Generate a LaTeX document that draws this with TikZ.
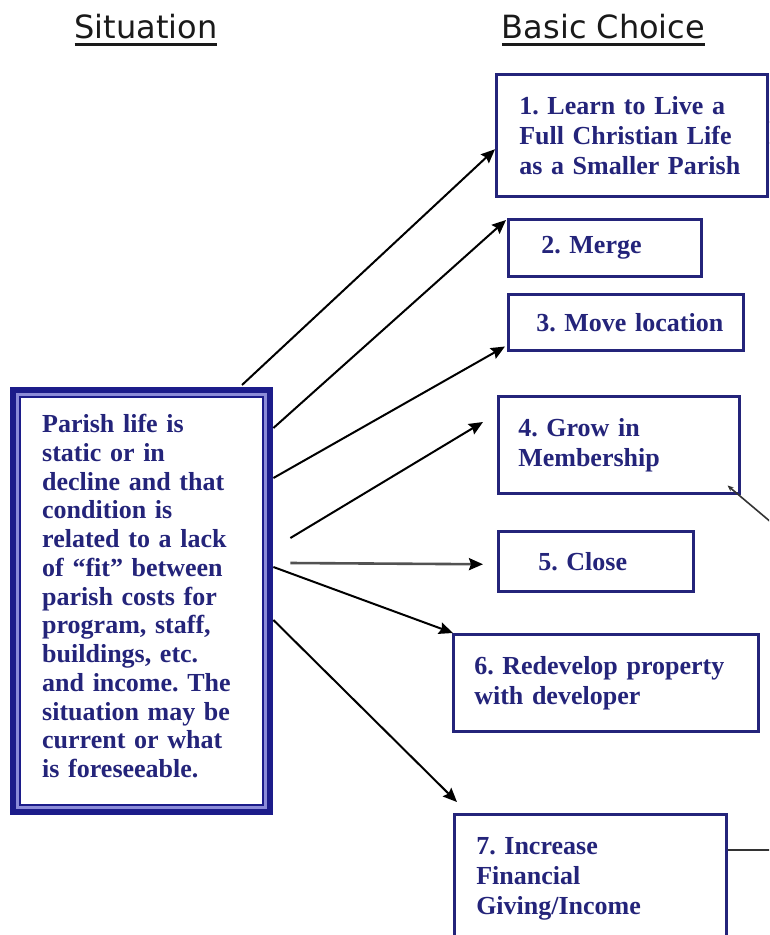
\documentclass[tikz,border=0pt]{standalone}
\usepackage{fontspec}
\setmainfont{Liberation Serif}
\newfontfamily\headfont{DejaVu Sans}
\usetikzlibrary{arrows.meta,backgrounds}
\definecolor{navy}{HTML}{24247A}
\definecolor{navydeep}{HTML}{1C1C8A}
\definecolor{bandblue}{HTML}{8C8CD8}
\definecolor{headgray}{HTML}{1A1A1A}
\newcommand\lpad[1]{\leftskip=#1pt\relax\parindent=0pt\relax}
\newcommand\hdul[1]{\vtop{\hbox{#1}\kern5pt\hrule height 2.5pt}}
\tikzset{
  choice/.style={draw=navy, line width=2.5pt, anchor=north west, inner xsep=0pt, inner ysep=0pt,
    align=left, text=navy, font=\frenchspacing\bfseries\fontsize{26}{30}\selectfont},
  sitbox/.style={anchor=north west, inner xsep=0pt, inner ysep=0pt, align=left, text=navy,
    font=\frenchspacing\bfseries\fontsize{26}{28.75}\selectfont},
  head/.style={anchor=base, inner sep=0pt, text=headgray, font=\headfont\fontsize{32}{38}\selectfont},
  arr/.style={line width=2pt, draw=black, -{Stealth[length=14pt,width=12pt,inset=2pt]}},
  greyarr/.style={line width=2.6pt, draw=black!68, -{Stealth[length=14pt,width=12pt,inset=2pt,color=black]}},
  exitline/.style={line width=1.6pt, draw=black!80}
}
\begin{document}
\begin{tikzpicture}[x=1pt,y=-1pt]
\useasboundingbox (0,0) rectangle (769,935);
\clip (0,0) rectangle (769,935);

% headings
\node[head] (h1) at (146,38) {\hdul{Situation}};
\node[head] (h2) at (603.5,38) {\hdul{Basic Choice}};

% situation box
\node[sitbox, minimum width=263pt, minimum height=428pt, text width=263pt] (sit) at (10,387)
 {\lpad{32}Parish life is\\ static or in\\ decline and that\\ condition is\\ related to a lack\\ of ``fit'' between\\ parish costs for\\ program, staff,\\ buildings, etc.\\ and income. The\\ situation may be\\ current or what\\ is foreseeable.\par\kern10pt\hrule height 0pt width 0pt};

% choice boxes
\node[choice, minimum width=271pt, minimum height=122pt, text width=271pt] (b1) at (495,73)
 {\lpad{23}1. Learn to Live a\\ Full Christian Life\\ as a Smaller Parish\par};
\node[choice, minimum width=193pt, minimum height=57pt, text width=193pt] (b2) at (507,218)
 {\lpad{33}2. Merge\par};
\node[choice, minimum width=235pt, minimum height=56pt, text width=235pt] (b3) at (507,293)
 {\lpad{28}3. Move location\par};
\node[choice, minimum width=241pt, minimum height=97pt, text width=241pt] (b4) at (497,395)
 {\lpad{20}4. Grow in\\ Membership\par};
\node[choice, minimum width=195pt, minimum height=60pt, text width=195pt] (b5) at (497,530)
 {\lpad{40}5. Close\par};
\node[choice, minimum width=305pt, minimum height=97pt, text width=305pt] (b6) at (452,633)
 {\lpad{21}6. Redevelop property\\ with developer\par};
\node[choice, minimum width=272pt, minimum height=130pt, text width=272pt] (b7) at (453,813)
 {\lpad{22}7. Increase\\ Financial\\ Giving/Income\par};

% arrows from the situation to the choices
\draw[arr] ([shift={(232,-2)}]sit.north west) -- ([shift={(0,14)}]b1.west);
\draw[arr] ([shift={(0,41)}]sit.north east) -- ([shift={(-1,2)}]b2.north west);
\draw[arr] ([shift={(0,91)}]sit.north east) -- ([shift={(-2,-5)}]b3.south west);
\draw[arr] ([shift={(17,151)}]sit.north east) -- ([shift={(-14,27)}]b4.north west);
\draw[greyarr] ([shift={(17,176)}]sit.north east) -- ([shift={(-14,3)}]b5.west);
\draw[arr] ([shift={(0,180)}]sit.north east) -- ([shift={(1,0)}]b6.north west);
\draw[arr] ([shift={(0,233)}]sit.north east) -- ([shift={(4,-11)}]b7.north west);

% connectors leaving the picture
\coordinate (o1) at (772,122);
\coordinate (o2) at (772,143);
\coordinate (o4) at (772,523);
\coordinate (o7) at (772,850);
\draw[exitline] ([shift={(0,49)}]b1.north east) -- (o1);
\draw[exitline] ([shift={(0,70)}]b1.north east) -- (o2);
\draw[exitline, -{Stealth[length=6pt,width=5pt]}] (o4) -- ([shift={(-13,-9)}]b4.south east);
\draw[exitline] ([shift={(0,37)}]b7.north east) -- (o7);

% double border of the situation box
\begin{scope}[on background layer]
\fill[white] (0,0) rectangle (769,935);
\fill[navydeep] (sit.north west) rectangle (sit.south east);
\fill[bandblue] ([shift={(6,6)}]sit.north west) rectangle ([shift={(-6,-6)}]sit.south east);
\fill[navydeep] ([shift={(9,9)}]sit.north west) rectangle ([shift={(-9,-9)}]sit.south east);
\fill[white] ([shift={(11,11)}]sit.north west) rectangle ([shift={(-11,-11)}]sit.south east);
\end{scope}
\end{tikzpicture}
\end{document}
